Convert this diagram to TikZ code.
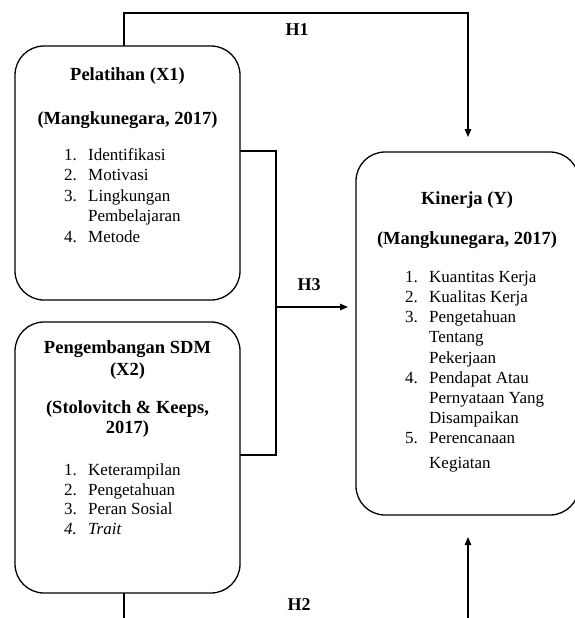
\documentclass[tikz,border=0pt]{standalone}
\usepackage{fontspec}
\setmainfont{Liberation Serif}
\usetikzlibrary{arrows.meta}
\begin{document}
\begin{tikzpicture}[x=1pt,y=-1pt,
  ln/.style={line width=1.3pt},
  arr/.style={line width=1.3pt,-{Triangle[length=8pt,width=6.5pt]}},
  rbox/.style={draw,line width=1.3pt,rounded corners=29pt,inner sep=0pt,outer sep=0pt},
  txt/.style={inner sep=0pt,font=\fontsize{17}{20}\selectfont},
  ttl/.style={txt,anchor=base,font=\fontsize{18.5}{20}\selectfont\bfseries},
  num/.style={txt,anchor=base east},
  itm/.style={txt,anchor=base west},
  hlab/.style={inner sep=0pt,font=\fontsize{18}{20}\selectfont\bfseries}]
\useasboundingbox (0,0) rectangle (574,618);
% boxes
\node[rbox,minimum width=225pt,minimum height=254pt] (x1) at (127.5,173) {};
\node[rbox,minimum width=225pt,minimum height=271pt] (x2) at (127.5,457.5) {};
\node[rbox,minimum width=223pt,minimum height=363pt] (y) at (467.5,333.5) {};
% X1 text
\node[ttl] (x1a) at (127.5,81) {Pelatihan (X1)};
\node[ttl] (x1b) at (127.5,124) {(Mangkunegara, 2017)};
\node[num] (x1n1) at (77,160) {1.};
\node[itm] (x1i1) at (88,160) {Identifikasi};
\node[num] (x1n2) at (77,180.5) {2.};
\node[itm] (x1i2) at (88,180.5) {Motivasi};
\node[num] (x1n3) at (77,201) {3.};
\node[itm] (x1i3) at (88,201) {Lingkungan};
\node[itm] (x1i3b) at (88,221.5) {Pembelajaran};
\node[num] (x1n4) at (77,242) {4.};
\node[itm] (x1i4) at (88,242) {Metode};
% X2 text
\node[ttl] (x2a) at (127.5,353) {Pengembangan SDM};
\node[ttl] (x2b) at (127.5,375) {(X2)};
\node[ttl] (x2c) at (127.5,413) {(Stolovitch \& Keeps,};
\node[ttl] (x2d) at (127.5,433) {2017)};
\node[num] (x2n1) at (77,475) {1.};
\node[itm] (x2i1) at (88,475) {Keterampilan};
\node[num] (x2n2) at (77,495) {2.};
\node[itm] (x2i2) at (88,495) {Pengetahuan};
\node[num] (x2n3) at (77,514) {3.};
\node[itm] (x2i3) at (88,514) {Peran Sosial};
\node[num] (x2n4) at (77,534) {\itshape 4.};
\node[itm] (x2i4) at (88,534) {\itshape Trait};
% Y text
\node[ttl] (ya) at (467,204) {Kinerja (Y)};
\node[ttl] (yb) at (467,244) {(Mangkunegara, 2017)};
\node[num] (yn1) at (418,282) {1.};
\node[itm] (yi1) at (429,282) {Kuantitas Kerja};
\node[num] (yn2) at (418,302) {2.};
\node[itm] (yi2) at (429,302) {Kualitas Kerja};
\node[num] (yn3) at (418,322.5) {3.};
\node[itm] (yi3) at (429,322.5) {Pengetahuan};
\node[itm] (yi3b) at (429,342.5) {Tentang};
\node[itm] (yi3c) at (429,363) {Pekerjaan};
\node[num] (yn4) at (418,383) {4.};
\node[itm] (yi4) at (429,383) {Pendapat Atau};
\node[itm] (yi4b) at (429,403) {Pernyataan Yang};
\node[itm] (yi4c) at (429,423.5) {Disampaikan};
\node[num] (yn5) at (418,443.5) {5.};
\node[itm] (yi5) at (429,443.5) {Perencanaan};
\node[itm] (yi5b) at (429,468) {Kegiatan};
% connector coordinates
\coordinate (h1l) at (124,13);
\coordinate (h1r) at (468,13);
\coordinate (b1) at (276,151);
\coordinate (b2) at (276,455);
\coordinate (b3) at (276,307);
\coordinate (h2l) at (124,618);
\coordinate (h2r) at (468,618);
% H1
\draw[arr,shorten >=15pt] (h1l |- x1.north) -- (h1l) -- (h1r) -- (h1r |- y.north);
\node[hlab] (lh1) at (297,30) {H1};
% H3
\draw[ln] (x1.east |- b1) -- (b1) -- (b2) -- (x2.east |- b2);
\draw[arr,shorten >=8pt] (b3) -- (y.west |- b3);
\node[hlab] (lh3) at (309,285) {H3};
% H2
\draw[ln] (h2l |- x2.south) -- (h2l);
\draw[arr,shorten >=22pt] (h2r) -- (h2r |- y.south);
\node[hlab] (lh2) at (299,605) {H2};
\end{tikzpicture}
\end{document}
